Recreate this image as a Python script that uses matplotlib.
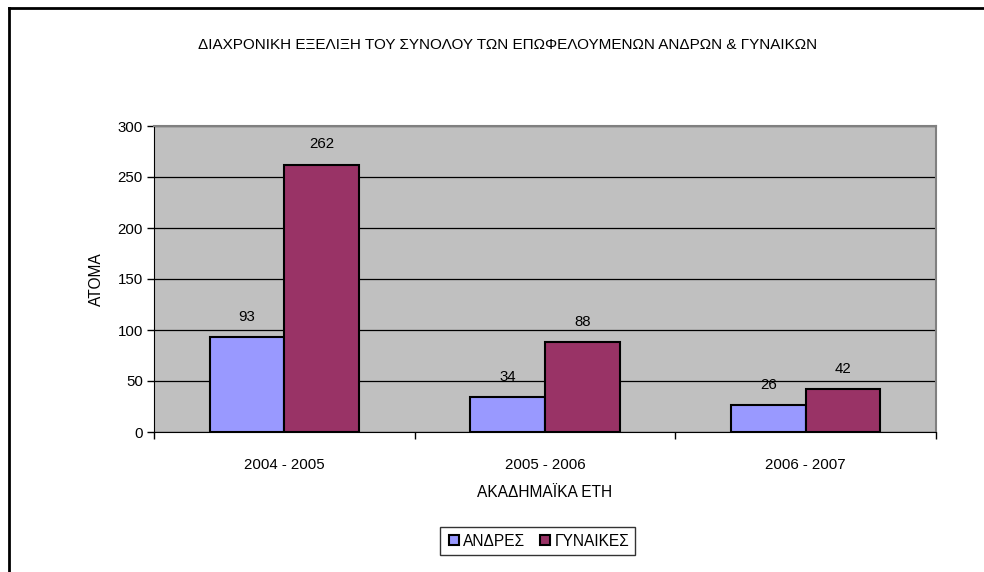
import numpy as np
import matplotlib.pyplot as plt
from matplotlib.lines import Line2D

plt.rcParams['font.family'] = ['Liberation Sans', 'DejaVu Sans']

years = ['2004 - 2005', '2005 - 2006', '2006 - 2007']
men = [93, 34, 26]
women = [262, 88, 42]
series_names = ['ΑΝΔΡΕΣ', 'ΓΥΝΑΙΚΕΣ']

c_men = '#9999FF'
c_women = '#993366'

fig = plt.figure(figsize=(9.84, 5.72), dpi=100)
ax = fig.add_axes([154 / 984, 1 - 432 / 572, (936 - 154) / 984, (432 - 126) / 572])

x = np.arange(len(years))
w = 0.287
b1 = ax.bar(x - w / 2, men, w, color=c_men, edgecolor='black', linewidth=1.5, zorder=3)
b2 = ax.bar(x + w / 2, women, w, color=c_women, edgecolor='black', linewidth=1.5, zorder=3)

for bars, vals in [(b1, men), (b2, women)]:
    for rect, v in zip(bars, vals):
        ax.text(rect.get_x() + rect.get_width() / 2, v + 13, str(v),
                ha='center', va='bottom', fontsize=10.8, zorder=4)

ax.set_facecolor('#C0C0C0')
ax.set_xlim(-0.5, 2.5)
ax.set_ylim(0, 300)
ax.set_yticks(range(0, 301, 50))
ax.yaxis.grid(True, color='black', linewidth=0.9, zorder=1)
ax.set_axisbelow(True)

ax.set_xticks(x)
ax.set_xticklabels(years, fontsize=10.8)
ax.tick_params(axis='x', length=0, pad=19)
ax.set_xticks([-0.5, 0.5, 1.5, 2.5], minor=True)
ax.tick_params(axis='x', which='minor', length=5, width=1, color='black')
ax.tick_params(axis='y', length=5, width=1, labelsize=10.8, pad=3)

for s in ['top', 'right']:
    ax.spines[s].set_color('#808080')
    ax.spines[s].set_linewidth(1.5)
ax.spines['left'].set_color('black')
ax.spines['bottom'].set_color('black')

ax.set_ylabel('ΑΤΟΜΑ', fontsize=11.2, labelpad=10)
ax.set_xlabel('ΑΚΑΔΗΜΑΪΚΑ ΕΤΗ', fontsize=11.2, labelpad=9)

fig.text(508 / 984, 1 - 45 / 572, 'ΔΙΑΧΡΟΝΙΚΗ ΕΞΕΛΙΞΗ ΤΟΥ ΣΥΝΟΛΟΥ ΤΩΝ ΕΠΩΦΕΛΟΥΜΕΝΩΝ ΑΝΔΡΩΝ & ΓΥΝΑΙΚΩΝ',
         ha='center', va='center', fontsize=11)

handles = [Line2D([], [], marker='s', linestyle='none', markersize=6.5,
                  markerfacecolor=c, markeredgecolor='black', markeredgewidth=1.5)
           for c in [c_men, c_women]]
leg = fig.legend(handles, series_names, loc='center', bbox_to_anchor=(537.5 / 984, 1 - 541 / 572),
                 ncol=2, fontsize=11.2, frameon=True, fancybox=False, handletextpad=0.1,
                 columnspacing=0.8, borderpad=0.4, handlelength=1.0)
leg.get_frame().set_edgecolor('black')
leg.get_frame().set_linewidth(1.0)

# outer border (left and top only visible)
fig.add_artist(Line2D([9 / 984, 9 / 984], [0, 1 - 8 / 572], color='black', linewidth=2,
                      transform=fig.transFigure))
fig.add_artist(Line2D([9 / 984, 1], [1 - 8 / 572, 1 - 8 / 572], color='black', linewidth=2,
                      transform=fig.transFigure))

fig.savefig('out.png', dpi=100)
